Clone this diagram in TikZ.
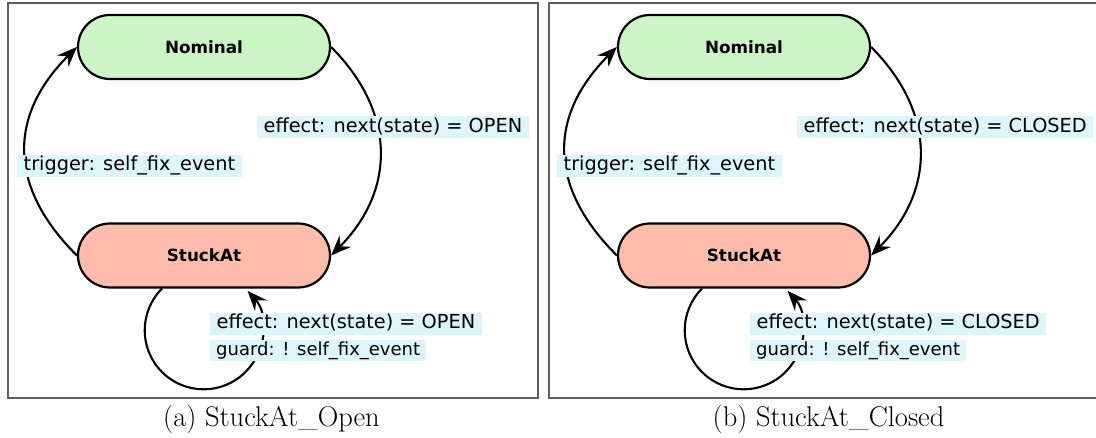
\documentclass[tikz,border=0pt]{standalone}
\usepackage{fontspec}
\newfontfamily\dejavu{DejaVu Sans}
\usetikzlibrary{arrows.meta}
\definecolor{nomfill}{RGB}{204,245,198}
\definecolor{stkfill}{RGB}{255,188,170}
\definecolor{lblfill}{RGB}{221,246,251}
\definecolor{framec}{RGB}{95,95,95}
\tikzset{
 state/.style={draw=black, line width=2.2pt, rounded corners=32pt, minimum width=252pt, minimum height=64pt, inner sep=0pt, font=\dejavu\bfseries\fontsize{16.8}{20}\selectfont},
 trans/.style={line width=2.1pt, -{Stealth[length=20pt,width=16pt,inset=7pt]}},
 lbl/.style={fill=lblfill, anchor=west, inner xsep=6.5pt, inner ysep=1pt, text height=15pt, text depth=5pt, font=\dejavu\fontsize{19.3}{22}\selectfont},
 smalllbl/.style={lbl, inner xsep=6pt, text height=14.5pt, text depth=4.5pt, font=\dejavu\fontsize{18}{21}\selectfont},
 panelframe/.style={draw=framec, line width=1.4pt},
 captext/.style={anchor=base, font=\fontsize{28.5}{32}\selectfont}
}
\begin{document}
\begin{tikzpicture}[x=1pt,y=-1pt]
\useasboundingbox (0,0) rectangle (1096,438);
\draw[panelframe] (8,3) rectangle (538,398);
\draw[panelframe] (549,3) rectangle (1120,398);
% panel (a)
\node[state, fill=nomfill] (n1) at (204,47) {Nominal};
\node[state, fill=stkfill] (s1) at (204,255.5) {StuckAt};
\draw[trans] (n1.east) .. controls (396,112) and (396,190) .. (s1.east);
\draw[trans] (s1.west) .. controls (8,187) and (8,116) .. (n1.west);
\draw[trans] ([xshift=-42pt]s1.south) arc[start angle=225, end angle=-42, radius=59];
\node[lbl] (l1) at (257,127.5) {effect: next(state) = OPEN};
\node[lbl] (l2) at (17,166) {trigger: self\_fix\_event};
\node[lbl] (l3) at (210,324) {effect: next(state) = OPEN};
\node[smalllbl] (l4) at (210,350.5) {guard: ! self\_fix\_event};
\node[captext] (ca) at (271.5,427) {(a) StuckAt\_Open};
% panel (b)
\begin{scope}[xshift=540pt]
\node[state, fill=nomfill] (n2) at (204,47) {Nominal};
\node[state, fill=stkfill] (s2) at (204,255.5) {StuckAt};
\draw[trans] (n2.east) .. controls (396,112) and (396,190) .. (s2.east);
\draw[trans] (s2.west) .. controls (8,187) and (8,116) .. (n2.west);
\draw[trans] ([xshift=-42pt]s2.south) arc[start angle=225, end angle=-42, radius=59];
\node[lbl] (m1) at (257,127.5) {effect: next(state) = CLOSED};
\node[lbl] (m2) at (17,166) {trigger: self\_fix\_event};
\node[lbl] (m3) at (210,324) {effect: next(state) = CLOSED};
\node[smalllbl] (m4) at (210,350.5) {guard: ! self\_fix\_event};
\node[captext] (cb) at (288.5,427) {(b) StuckAt\_Closed};
\end{scope}
\end{tikzpicture}
\end{document}
